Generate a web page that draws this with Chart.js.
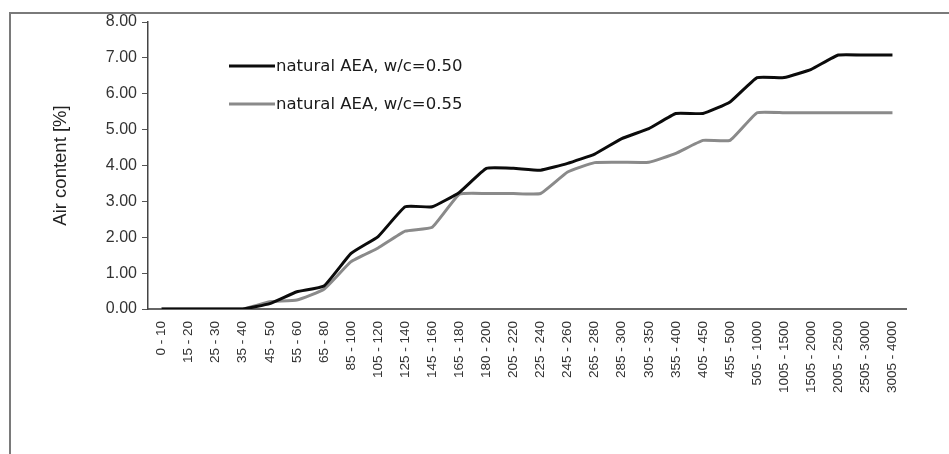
<!DOCTYPE html>
<html>
<head>
<meta charset="utf-8">
<script src="https://cdn.jsdelivr.net/npm/chart.js@4.4.1/dist/chart.umd.min.js"></script>
<style>
  html, body { margin: 0; padding: 0; background: #fff; }
  #wrap { width: 949px; height: 454px; }
</style>
</head>
<body>
<div id="wrap"><canvas id="airChart" width="949" height="454"></canvas></div>
<script>
// ---------------- Data ----------------
const categories = [
  "0 - 10", "15 - 20", "25 - 30", "35 - 40", "45 - 50", "55 - 60", "65 - 80",
  "85 - 100", "105 - 120", "125 - 140", "145 - 160", "165 - 180", "180 - 200",
  "205 - 220", "225 - 240", "245 - 260", "265 - 280", "285 - 300", "305 - 350",
  "355 - 400", "405 - 450", "455 - 500", "505 - 1000", "1005 - 1500",
  "1505 - 2000", "2005 - 2500", "2505 - 3000", "3005 - 4000"
];
const seriesNames = ["natural AEA, w/c=0.50", "natural AEA, w/c=0.55"];
const wc050 = [0, 0, 0, 0, 0.15, 0.48, 0.64, 1.55, 2.02, 2.85, 2.85, 3.25, 3.92, 3.92,
  3.87, 4.06, 4.32, 4.75, 5.03, 5.45, 5.45, 5.77, 6.45, 6.45, 6.68, 7.08, 7.08, 7.08];
const wc055 = [0, 0, 0, 0, 0.2, 0.25, 0.55, 1.32, 1.7, 2.17, 2.28, 3.2, 3.22, 3.22,
  3.22, 3.82, 4.08, 4.09, 4.09, 4.34, 4.7, 4.7, 5.47, 5.47, 5.47, 5.47, 5.47, 5.47];
const yTicks = [0, 1, 2, 3, 4, 5, 6, 7, 8];

// ---------------- Plugins ----------------
const framePlugin = {
  id: "frame",
  beforeDraw(chart) {
    const ctx = chart.ctx;
    ctx.save();
    ctx.strokeStyle = "#7a7a7a";
    ctx.lineWidth = 2;
    ctx.strokeRect(10, 13, 1000, 600);
    ctx.restore();
  }
};

const innerLegend = {
  id: "innerLegend",
  afterDatasetsDraw(chart) {
    const ctx = chart.ctx;
    ctx.save();
    ctx.font = "16.5px 'DejaVu Sans'";
    ctx.textBaseline = "middle";
    chart.data.datasets.forEach((ds, i) => {
      const y = 66 + i * 38;
      ctx.strokeStyle = ds.borderColor;
      ctx.lineWidth = 3;
      ctx.beginPath();
      ctx.moveTo(229, y);
      ctx.lineTo(275, y);
      ctx.stroke();
      ctx.fillStyle = "#1a1a1a";
      ctx.fillText(ds.label, 276, y + 1);
    });
    ctx.restore();
  }
};

// ---------------- Chart ----------------
const ctx = document.getElementById("airChart").getContext("2d");
new Chart(ctx, {
  type: "line",
  data: {
    labels: categories,
    datasets: [
      {
        label: seriesNames[0],
        data: wc050,
        borderColor: "#0b0b0b",
        borderWidth: 3,
        pointRadius: 0,
        tension: 0.12,
        fill: false
      },
      {
        label: seriesNames[1],
        data: wc055,
        borderColor: "#8a8a8a",
        borderWidth: 3,
        pointRadius: 0,
        tension: 0.12,
        fill: false
      }
    ]
  },
  options: {
    responsive: false,
    animation: false,
    layout: { padding: { top: 22, right: 43, left: 0, bottom: 0 } },
    plugins: {
      legend: { display: false },
      tooltip: { enabled: false }
    },
    scales: {
      x: {
        offset: true,
        grid: { display: false },
        border: { color: "#666", width: 2 },
        ticks: {
          autoSkip: false,
          maxRotation: 90,
          minRotation: 90,
          padding: 4,
          color: "#333",
          font: { family: "'Liberation Sans', Arial", size: 13.5 }
        },
        afterFit: s => { s.height = 145; }
      },
      y: {
        min: 0,
        max: 8,
        afterBuildTicks: s => { s.ticks = yTicks.map(v => ({ value: v })); },
        grid: { drawOnChartArea: false, tickLength: 6, color: "#555" },
        border: { color: "#444", width: 1.5 },
        ticks: {
          padding: 5,
          color: "#333",
          font: { family: "'Liberation Sans', Arial", size: 16 },
          callback: v => v.toFixed(2)
        },
        title: {
          display: true,
          text: "Air content [%]",
          color: "#222",
          padding: { top: 50, bottom: 0 },
          font: { family: "'Liberation Sans', Arial", size: 18.5 }
        },
        afterFit: s => { s.width = 148; }
      }
    }
  },
  plugins: [framePlugin, innerLegend]
});
</script>
</body>
</html>
